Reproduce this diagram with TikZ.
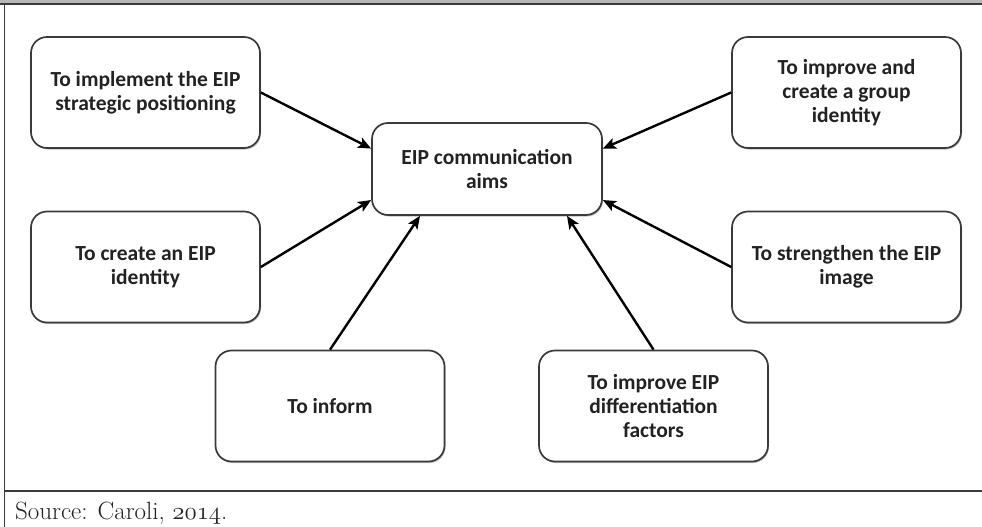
\documentclass[tikz,border=0pt]{standalone}
\usepackage{fontspec}
\setmainfont{Carlito}
\newfontfamily\srcfont{Latin Modern Roman}
\usetikzlibrary{arrows.meta,calc,shadows}
\definecolor{ink}{HTML}{222222}
\definecolor{rule}{HTML}{3A3A3A}
\definecolor{band}{HTML}{B8B8B8}
\begin{document}
\begin{tikzpicture}[x=1pt,y=-1pt,
  aim/.style={draw=rule, line width=1.7pt, rounded corners=16pt, fill=white,
    minimum width=229pt, minimum height=111pt, align=center, text=ink,
    font=\fontsize{21.5}{24}\selectfont\bfseries, inner sep=0pt,
    drop shadow={shadow xshift=1pt, shadow yshift=-1.5pt, opacity=0.25, fill=black}},
  hub/.style={aim, minimum width=230pt, minimum height=92pt},
  arr/.style={draw=black, line width=2.4pt, -{Stealth[length=13pt,width=11pt,inset=3pt]}}
]
\useasboundingbox (0,0) rectangle (982,527);
% frame of the figure
\fill[band] (0,0) rectangle (982,3.5);
\draw[rule, line width=1.3pt] (0,4) -- (982,4);
\draw[rule, line width=1.6pt] (4.5,4) -- (4.5,527);
\draw[rule, line width=1.4pt] (4.5,491) -- (982,491);
\node[anchor=base west, font=\srcfont\fontsize{25}{28}\selectfont, text=ink, inner sep=0pt]
  (src) at (15,519) {Source: Caroli, $\mathnormal{2014}$.};

% boxes
\node[hub] (c) at (487,169) {EIP communication\\aims};
\node[aim] (b1) at (145.5,92.5) {To implement the EIP\\strategic positioning};
\node[aim] (b2) at (145.5,267) {To create an EIP\\identity};
\node[aim] (b3) at (330,406) {To inform};
\node[aim] (b4) at (653.5,406) {To improve EIP\\differentiation\\factors};
\node[aim] (b5) at (846.5,267) {To strengthen the EIP\\image};
\node[aim] (b6) at (846.5,92.5) {To improve and\\create a group\\identity};

% connectors
\draw[arr] (b1.east) -- (c.170);
\draw[arr] (b2.east) -- (c.195);
\draw[arr] (b3.north) -- ($(c.south)+(-67,0)$);
\draw[arr] (b4.north) -- ($(c.south)+(80,0)$);
\draw[arr] (b5.west) -- (c.345);
\draw[arr] (b6.west) -- (c.10);
\end{tikzpicture}
\end{document}
